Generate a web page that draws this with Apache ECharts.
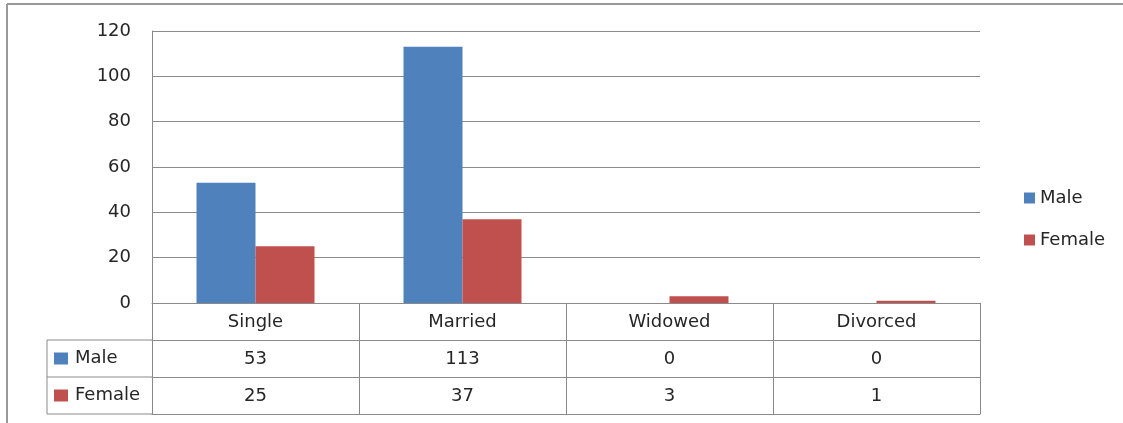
<!DOCTYPE html>
<html>
<head>
<meta charset="utf-8">
<script src="https://cdn.jsdelivr.net/npm/echarts@6/dist/echarts.min.js"></script>
<style>
    html, body { margin: 0; padding: 0; background: #fff; }
    #main { width: 1123px; height: 423px; }
</style>
</head>
<body>
<div id="main"></div>
<script>
// 数据
var categories = ['Single', 'Married', 'Widowed', 'Divorced'];
var seriesNames = ['Male', 'Female'];
var maleValues = [53, 113, 0, 0];
var femaleValues = [25, 37, 3, 1];
var yTicks = { min: 0, max: 120, interval: 20 };

var colors = ['#4F81BD', '#C0504D'];
var lineColor = '#8a8a8a';
var textColor = '#262626';
var font = 'DejaVu Sans';
var fs = 18;

// 表格行高
var rowH = 37;
var gridLeft = 152, gridTop = 31, gridBottomY = 303;

function tableAxis(data, offset, showLabel) {
    return {
        type: 'category',
        gridIndex: 0,
        position: 'bottom',
        offset: offset,
        data: data,
        axisLine: { show: true, lineStyle: { color: lineColor, width: 1 } },
        axisTick: { show: showLabel, length: rowH, interval: 0, lineStyle: { color: lineColor } },
        axisLabel: {
            show: showLabel,
            interval: 0,
            margin: 10,
            color: textColor,
            fontFamily: font,
            fontSize: fs
        },
        splitLine: { show: false }
    };
}

var e = echarts.init(document.getElementById('main'));

var option = {
    animation: false,
    backgroundColor: '#fff',
    color: colors,
    grid: {
        left: gridLeft,
        right: 143,
        top: gridTop,
        bottom: 423 - gridBottomY
    },
    legend: {
        orient: 'vertical',
        left: 1019,
        top: 184,
        icon: 'rect',
        itemWidth: 11,
        itemHeight: 11,
        itemGap: 24,
        textStyle: { color: textColor, fontFamily: font, fontSize: fs },
        data: seriesNames
    },
    xAxis: [
        tableAxis(categories, 0, true),
        tableAxis(maleValues.map(String), rowH, true),
        tableAxis(femaleValues.map(String), rowH * 2, true),
        tableAxis(categories, rowH * 3, false)
    ],
    yAxis: {
        type: 'value',
        min: yTicks.min,
        max: yTicks.max,
        interval: yTicks.interval,
        axisLine: { show: true, lineStyle: { color: lineColor } },
        axisTick: { show: false },
        axisLabel: { color: textColor, fontFamily: font, fontSize: fs, margin: 21, padding: [4, 0, 0, 0] },
        splitLine: { show: true, lineStyle: { color: lineColor, width: 1 } }
    },
    series: [{
        name: seriesNames[0],
        type: 'bar',
        xAxisIndex: 0,
        data: maleValues,
        barGap: '0%',
        barCategoryGap: '43%'
    }, {
        name: seriesNames[1],
        type: 'bar',
        xAxisIndex: 0,
        data: femaleValues,
        barGap: '0%',
        barCategoryGap: '43%'
    }],
    graphic: []
};

// 外框 + 表格左侧图例列
var tLeft = 47;
var y1 = gridBottomY + rowH, y2 = y1 + rowH, y3 = y2 + rowH;
var lineStyle = { stroke: lineColor, lineWidth: 1 };
var g = [
    { type: 'line', shape: { x1: 7, y1: 4, x2: 1123, y2: 4 }, style: { stroke: '#999', lineWidth: 2 } },
    { type: 'line', shape: { x1: 7, y1: 4, x2: 7, y2: 423 }, style: { stroke: '#999', lineWidth: 2 } },
    { type: 'line', shape: { x1: tLeft, y1: y1, x2: gridLeft, y2: y1 }, style: lineStyle },
    { type: 'line', shape: { x1: tLeft, y1: y2, x2: gridLeft, y2: y2 }, style: lineStyle },
    { type: 'line', shape: { x1: tLeft, y1: y3, x2: gridLeft, y2: y3 }, style: lineStyle },
    { type: 'line', shape: { x1: tLeft, y1: y1, x2: tLeft, y2: y3 }, style: lineStyle }
];
for (var i = 0; i < seriesNames.length; i++) {
    var cy = y1 + rowH * i + rowH / 2;
    g.push({ type: 'rect', shape: { x: 54, y: cy - 6, width: 14, height: 12 }, style: { fill: colors[i] } });
    g.push({
        type: 'text', x: 75, y: cy,
        style: { text: seriesNames[i], fill: textColor, font: fs + 'px "' + font + '"', verticalAlign: 'middle' }
    });
}
option.graphic = g;

e.setOption(option);
</script>
</body>
</html>
